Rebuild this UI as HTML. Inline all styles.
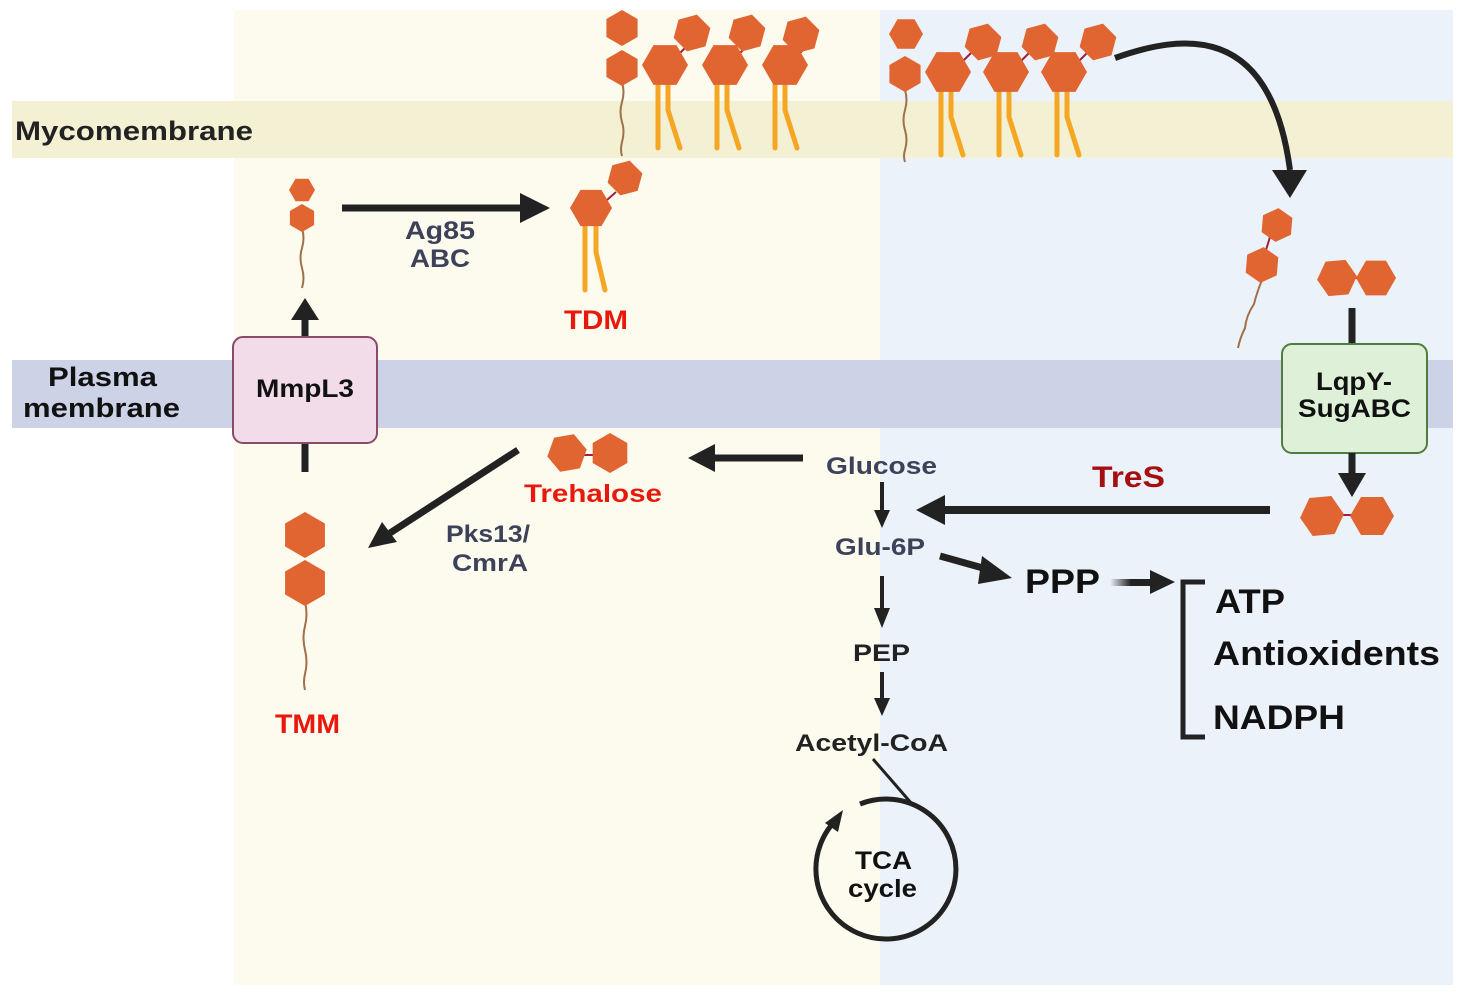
<!DOCTYPE html>
<html><head><meta charset="utf-8"><style>
html,body{margin:0;padding:0;background:#fff;}
svg{display:block;}
text{font-family:"Liberation Sans",Arial,sans-serif;font-weight:bold;}
</style></head><body>
<svg width="1468" height="996" viewBox="0 0 1468 996" xmlns="http://www.w3.org/2000/svg">
<defs>
<polygon id="hx" points="1,0 0.5,0.866 -0.5,0.866 -1,0 -0.5,-0.866 0.5,-0.866" fill="#e06530"/>
<polygon id="hp" points="0,1 0.866,0.5 0.866,-0.5 0,-1 -0.866,-0.5 -0.866,0.5" fill="#e06530"/>
<linearGradient id="gr" x1="0" x2="1"><stop offset="0" stop-color="#222" stop-opacity="0"/><stop offset="0.5" stop-color="#222"/></linearGradient>
</defs>
<rect x="234" y="10" width="646" height="975" fill="#fdfaee"/>
<rect x="880" y="10" width="573" height="975" fill="#ecf2fa"/>
<rect x="12" y="101" width="1441" height="57" fill="#f4f0d3"/>
<rect x="12" y="360" width="1441" height="68" fill="#cdd3e6"/>
<text x="15" y="140" font-size="27" fill="#222" textLength="238" lengthAdjust="spacingAndGlyphs">Mycomembrane</text>
<text x="48" y="386" font-size="27" fill="#111" textLength="109" lengthAdjust="spacingAndGlyphs">Plasma</text>
<text x="23" y="417" font-size="27" fill="#111" textLength="157" lengthAdjust="spacingAndGlyphs">membrane</text>

<g stroke="#f5a623" stroke-width="5" stroke-linecap="round" fill="none">
<path d="M658,85 V148 M668,85 V110 L680,148"/>
<path d="M717,85 V148 M727,85 V110 L739,148"/>
<path d="M775,85 V148 M785,85 V110 L797,148"/>
<path d="M941,92 V155 M951,92 V117 L963,155"/>
<path d="M999,92 V155 M1009,92 V117 L1021,155"/>
<path d="M1057,92 V155 M1067,92 V117 L1079,155"/>
<path d="M585,226 V290 M596,226 V252 L605,290"/>
</g>
<g stroke="#a0704a" stroke-width="2" fill="none">
<path d="M622,82 q3,10 0,20 q-3,10 0,20 q3,10 0,20 q-2,8 0,14"/>
<path d="M905,90 q3,10 0,20 q-3,10 0,20 q3,10 0,20 q-2,6 0,12"/>
<path d="M302,228 q3,10 0,20 q-3,10 0,20 q3,10 0,20"/>
<path d="M305,602 q3,12 0,24 q-3,12 0,24 q3,12 0,24 q-2,8 0,16"/>
<path d="M1262,280 q-5,12 -8,24 q-8,12 -9,24 q-5,10 -7,20"/>
</g>
<g stroke="#a02040" stroke-width="2">
<line x1="678" y1="55" x2="688" y2="45"/><line x1="738" y1="55" x2="748" y2="45"/><line x1="798" y1="55" x2="808" y2="45"/>
<line x1="962" y1="62" x2="972" y2="52"/><line x1="1020" y1="62" x2="1030" y2="52"/><line x1="1078" y1="62" x2="1088" y2="52"/>
<line x1="1338" y1="278" x2="1376" y2="278"/><line x1="1320" y1="515" x2="1372" y2="515"/><line x1="567" y1="455" x2="610" y2="455"/>
</g>
<use href="#hp" transform="translate(622,28) scale(18)"/>
<use href="#hp" transform="translate(622,68) scale(18)"/>
<use href="#hx" transform="translate(665,65) scale(23)"/>
<use href="#hx" transform="translate(725,65) scale(23)"/>
<use href="#hx" transform="translate(785,65) scale(23)"/>
<use href="#hp" transform="translate(692,33) scale(19) rotate(15)"/>
<use href="#hp" transform="translate(747,33) scale(19) rotate(15)"/>
<use href="#hp" transform="translate(801,35) scale(19) rotate(15)"/>
<use href="#hx" transform="translate(906,34) scale(17)"/>
<use href="#hp" transform="translate(905,74) scale(18)"/>
<use href="#hx" transform="translate(948,72) scale(23)"/>
<use href="#hx" transform="translate(1006,72) scale(23)"/>
<use href="#hx" transform="translate(1064,72) scale(23)"/>
<use href="#hp" transform="translate(983,42) scale(19) rotate(15)"/>
<use href="#hp" transform="translate(1040,42) scale(19) rotate(15)"/>
<use href="#hp" transform="translate(1098,42) scale(19) rotate(15)"/>
<path d="M1115,58 C1180,35 1270,20 1290,170" stroke="#222" stroke-width="6" fill="none"/>
<path d="M1272,170 L1307,170 L1290,198 z" fill="#222"/>

<use href="#hx" transform="translate(302,190) scale(13)"/>
<use href="#hp" transform="translate(302,218) scale(14)"/>
<line x1="342" y1="208" x2="520" y2="208" stroke="#222" stroke-width="7"/>
<path d="M520,193 L550,208 L520,223 z" fill="#222"/>
<text x="405" y="239" font-size="25" fill="#3b4259" textLength="70" lengthAdjust="spacingAndGlyphs">Ag85</text>
<text x="410" y="267" font-size="25" fill="#3b4259" textLength="60" lengthAdjust="spacingAndGlyphs">ABC</text>
<line x1="616" y1="192" x2="607" y2="200" stroke="#a02040" stroke-width="2"/>
<use href="#hx" transform="translate(591,208) scale(21)"/>
<use href="#hp" transform="translate(625,178) scale(18) rotate(15)"/>
<text x="564" y="329" font-size="27" fill="#e8180c" textLength="64" lengthAdjust="spacingAndGlyphs">TDM</text>

<line x1="305" y1="472" x2="305" y2="443" stroke="#222" stroke-width="7"/>
<line x1="305" y1="338" x2="305" y2="318" stroke="#222" stroke-width="7"/>
<path d="M291,320 L305,298 L319,320 z" fill="#222"/>
<rect x="233" y="337" width="144" height="106" rx="10" fill="#f2dcea" stroke="#8a4a6a" stroke-width="2"/>
<text x="256" y="397" font-size="25" fill="#111" textLength="98" lengthAdjust="spacingAndGlyphs">MmpL3</text>

<use href="#hp" transform="translate(305,535) scale(23)"/>
<use href="#hp" transform="translate(305,583) scale(23)"/>
<text x="275" y="733" font-size="27" fill="#e8180c" textLength="65" lengthAdjust="spacingAndGlyphs">TMM</text>

<use href="#hp" transform="translate(567,453) scale(20) rotate(20)"/>
<use href="#hp" transform="translate(610,453) scale(20)"/>
<text x="524" y="502" font-size="25" fill="#e8180c" textLength="138" lengthAdjust="spacingAndGlyphs">Trehalose</text>
<line x1="803" y1="458" x2="715" y2="458" stroke="#222" stroke-width="7"/>
<path d="M715,444 L688,458 L715,472 z" fill="#222"/>
<line x1="518" y1="450" x2="390" y2="533" stroke="#222" stroke-width="7"/>
<path d="M382,522 L368,548 L397,542 z" fill="#222"/>
<text x="446" y="542" font-size="24" fill="#3b4259" textLength="84" lengthAdjust="spacingAndGlyphs">Pks13/</text>
<text x="452" y="571" font-size="24" fill="#3b4259" textLength="76" lengthAdjust="spacingAndGlyphs">CmrA</text>

<text x="826" y="474" font-size="24" fill="#3b4259" textLength="111" lengthAdjust="spacingAndGlyphs">Glucose</text>
<line x1="882" y1="482" x2="882" y2="512" stroke="#222" stroke-width="4"/>
<path d="M874,510 L882,528 L890,510 z" fill="#222"/>
<text x="835" y="555" font-size="24" fill="#3b4259" textLength="90" lengthAdjust="spacingAndGlyphs">Glu-6P</text>
<line x1="882" y1="576" x2="882" y2="610" stroke="#222" stroke-width="4"/>
<path d="M874,608 L882,628 L890,608 z" fill="#222"/>
<text x="853" y="661" font-size="24" fill="#222" textLength="57" lengthAdjust="spacingAndGlyphs">PEP</text>
<line x1="882" y1="672" x2="882" y2="700" stroke="#222" stroke-width="4"/>
<path d="M874,698 L882,716 L890,698 z" fill="#222"/>
<text x="795" y="751" font-size="24" fill="#222" textLength="153" lengthAdjust="spacingAndGlyphs">Acetyl-CoA</text>
<line x1="873" y1="759" x2="912" y2="804" stroke="#222" stroke-width="3"/>
<path d="M860,804 A70,70 0 1 1 838,818" stroke="#222" stroke-width="5" fill="none"/>
<path d="M825,823 L843,810 L838,832 z" fill="#222"/>
<text x="855" y="869" font-size="25" fill="#111" textLength="57" lengthAdjust="spacingAndGlyphs">TCA</text>
<text x="848" y="897" font-size="25" fill="#111" textLength="69" lengthAdjust="spacingAndGlyphs">cycle</text>

<line x1="1270" y1="510" x2="945" y2="510" stroke="#222" stroke-width="8"/>
<path d="M945,495 L916,510 L945,525 z" fill="#222"/>
<text x="1092" y="487" font-size="30" fill="#a50f0f" textLength="73" lengthAdjust="spacingAndGlyphs">TreS</text>

<line x1="940" y1="556" x2="990" y2="570" stroke="#222" stroke-width="7"/>
<path d="M982,556 L1012,578 L978,584 z" fill="#222"/>
<text x="1025" y="593" font-size="34" fill="#111" textLength="75" lengthAdjust="spacingAndGlyphs">PPP</text>
<rect x="1110" y="579" width="42" height="7" fill="url(#gr)"/>
<path d="M1150,570 L1175,582 L1150,594 z" fill="#222"/>
<path d="M1205,582 H1183 V737 H1205" stroke="#222" stroke-width="5" fill="none"/>
<text x="1215" y="613" font-size="34" fill="#111" textLength="70" lengthAdjust="spacingAndGlyphs">ATP</text>
<text x="1213" y="665" font-size="34" fill="#111" textLength="227" lengthAdjust="spacingAndGlyphs">Antioxidents</text>
<text x="1213" y="729" font-size="34" fill="#111" textLength="132" lengthAdjust="spacingAndGlyphs">NADPH</text>

<line x1="1270" y1="237" x2="1266" y2="250" stroke="#a02040" stroke-width="2"/>
<use href="#hx" transform="translate(1277,225) scale(17) rotate(-25)"/>
<use href="#hx" transform="translate(1262,265) scale(18) rotate(-25)"/>
<use href="#hx" transform="translate(1337,278) scale(20) rotate(-5)"/>
<use href="#hx" transform="translate(1376,278) scale(20)"/>
<line x1="1352" y1="308" x2="1352" y2="345" stroke="#222" stroke-width="7"/>
<rect x="1282" y="344" width="145" height="109" rx="10" fill="#def1d8" stroke="#4f7d3f" stroke-width="2"/>
<text x="1316" y="390" font-size="25" fill="#111" textLength="76" lengthAdjust="spacingAndGlyphs">LqpY-</text>
<text x="1298" y="417" font-size="25" fill="#111" textLength="113" lengthAdjust="spacingAndGlyphs">SugABC</text>
<line x1="1352" y1="453" x2="1352" y2="475" stroke="#222" stroke-width="7"/>
<path d="M1338,473 L1352,497 L1366,473 z" fill="#222"/>
<use href="#hx" transform="translate(1322,516) scale(22) rotate(-5)"/>
<use href="#hx" transform="translate(1372,516) scale(22)"/>
</svg>
</body></html>
